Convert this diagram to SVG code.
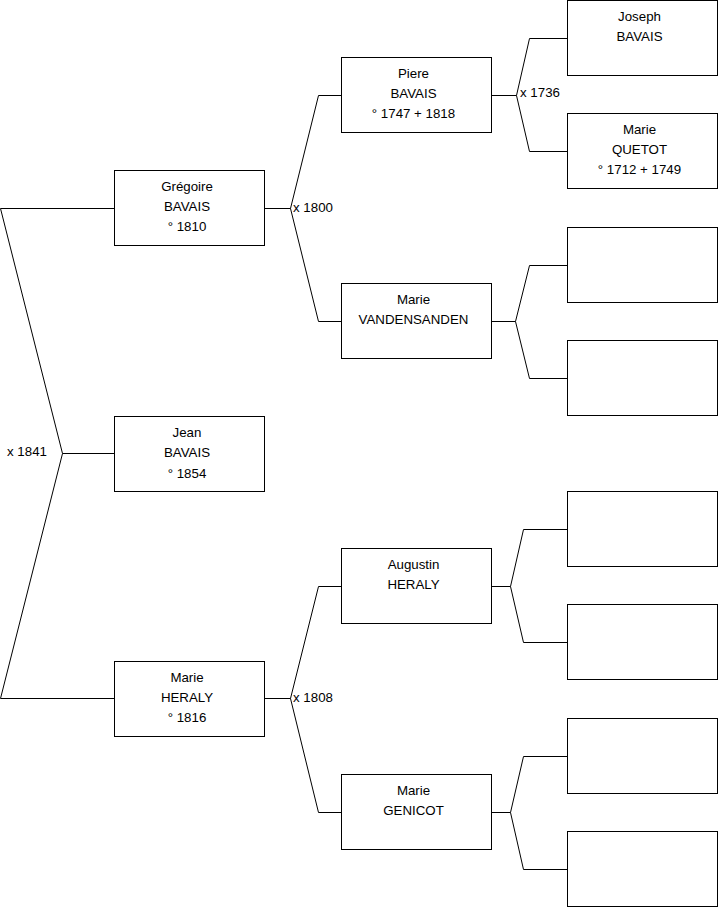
<svg xmlns="http://www.w3.org/2000/svg" width="719" height="908" viewBox="0 0 719 908">
<style>
.box{fill:#fff;stroke:#000;stroke-width:1}
.t{font-family:"Liberation Sans",Arial,sans-serif;font-size:13.3px;fill:#000;text-anchor:middle}
.l{font-family:"Liberation Sans",Arial,sans-serif;font-size:13.3px;fill:#000}
.c{fill:none;stroke:#000;stroke-width:1}
</style>
<rect width="719" height="908" fill="#fff"/>
<g id="connectors">
<path class="c" d="M114.5,208.5 H0.5 L62.5,453.5 H114.5 M62.5,453.5 L0.5,698.5 H114.5"/>
<path class="c" d="M265,208.5 H290.5 L318.5,95.5 H341 M290.5,208.5 L318.5,321.5 H341"/>
<path class="c" d="M265,698.5 H290.5 L318.5,586.5 H341 M290.5,698.5 L318.5,812.5 H341"/>
<path class="c" d="M492,95.5 H516.5 L529.5,38.5 H567 M516.5,95.5 L529.5,151.5 H567"/>
<path class="c" d="M492,321.5 H515.5 L529.5,265.5 H567 M515.5,321.5 L529.5,378.5 H567"/>
<path class="c" d="M492,586.5 H510.5 L523.5,529.5 H567 M510.5,586.5 L523.5,642.5 H567"/>
<path class="c" d="M492,812.5 H510.5 L523.5,756.5 H567 M510.5,812.5 L523.5,869.5 H567"/>
<text class="l" x="7" y="456">x 1841</text>
<text class="l" x="293" y="212">x 1800</text>
<text class="l" x="293" y="702">x 1808</text>
<text class="l" x="520" y="97">x 1736</text>
</g>
<g id="n-gregoire"><rect class="box" x="114.5" y="170.5" width="150" height="75"/><text class="t" x="187" y="191">Grégoire</text><text class="t" x="187" y="211">BAVAIS</text><text class="t" x="187" y="231">° 1810</text></g>
<g id="n-jean"><rect class="box" x="114.5" y="416.5" width="150" height="75"/><text class="t" x="187" y="437">Jean</text><text class="t" x="187" y="457">BAVAIS</text><text class="t" x="187" y="478">° 1854</text></g>
<g id="n-marie-heraly"><rect class="box" x="114.5" y="661.5" width="150" height="75"/><text class="t" x="187" y="682">Marie</text><text class="t" x="187" y="702">HERALY</text><text class="t" x="187" y="722">° 1816</text></g>
<g id="n-piere"><rect class="box" x="341.5" y="57.5" width="150" height="75"/><text class="t" x="413.5" y="78">Piere</text><text class="t" x="413.5" y="98">BAVAIS</text><text class="t" x="413.5" y="118">° 1747 + 1818</text></g>
<g id="n-vandensanden"><rect class="box" x="341.5" y="283.5" width="150" height="75"/><text class="t" x="413.5" y="304">Marie</text><text class="t" x="413.5" y="324">VANDENSANDEN</text></g>
<g id="n-augustin"><rect class="box" x="341.5" y="548.5" width="150" height="75"/><text class="t" x="413.5" y="569">Augustin</text><text class="t" x="413.5" y="589">HERALY</text></g>
<g id="n-genicot"><rect class="box" x="341.5" y="774.5" width="150" height="75"/><text class="t" x="413.5" y="795">Marie</text><text class="t" x="413.5" y="815">GENICOT</text></g>
<g id="n-joseph"><rect class="box" x="567.5" y="0.5" width="150" height="75"/><text class="t" x="639.5" y="21">Joseph</text><text class="t" x="639.5" y="41">BAVAIS</text></g>
<g id="n-quetot"><rect class="box" x="567.5" y="113.5" width="150" height="75"/><text class="t" x="639.5" y="134">Marie</text><text class="t" x="639.5" y="154">QUETOT</text><text class="t" x="639.5" y="174">° 1712 + 1749</text></g>
<g id="n-e1"><rect class="box" x="567.5" y="227.5" width="150" height="75"/></g>
<g id="n-e2"><rect class="box" x="567.5" y="340.5" width="150" height="75"/></g>
<g id="n-e3"><rect class="box" x="567.5" y="491.5" width="150" height="75"/></g>
<g id="n-e4"><rect class="box" x="567.5" y="604.5" width="150" height="75"/></g>
<g id="n-e5"><rect class="box" x="567.5" y="718.5" width="150" height="75"/></g>
<g id="n-e6"><rect class="box" x="567.5" y="831.5" width="150" height="75"/></g>
</svg>
